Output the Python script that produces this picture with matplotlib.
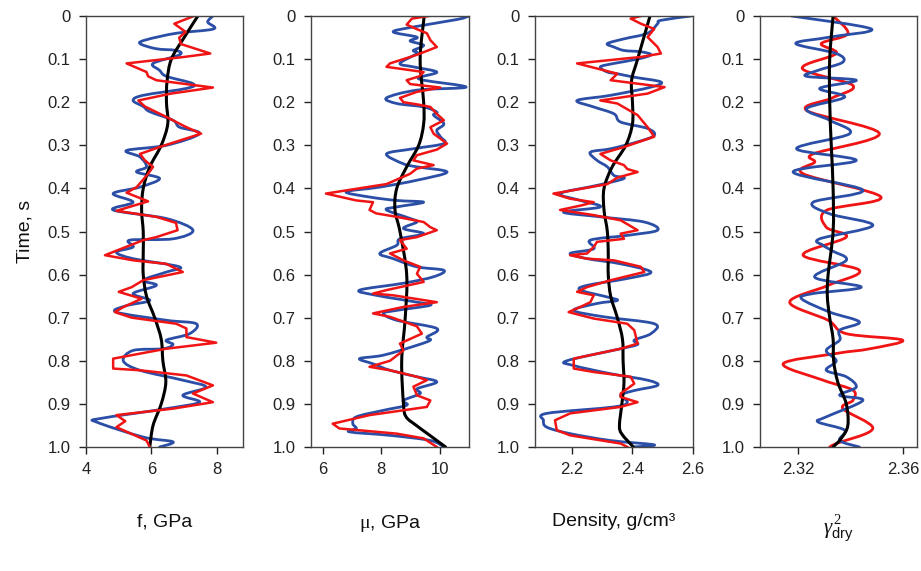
from __future__ import annotations

import numpy as np
import matplotlib
matplotlib.use("Agg")
import matplotlib.pyplot as plt
from matplotlib.path import Path
from matplotlib.patches import PathPatch

# ---- data (time in s, value in panel units) ----
# panel 1: f, GPa
f_red_t = [0.0, 0.018, 0.037, 0.05, 0.065, 0.087, 0.095, 0.11, 0.13, 0.14, 0.149, 0.166, 0.18, 0.196, 0.21,
           0.234, 0.258, 0.273, 0.304, 0.32, 0.335, 0.35, 0.366, 0.397, 0.41, 0.43, 0.452, 0.466, 0.48, 0.497,
           0.513, 0.52, 0.555, 0.567, 0.575, 0.594, 0.613, 0.629, 0.64, 0.656, 0.675, 0.687, 0.7, 0.714, 0.725,
           0.745, 0.758, 0.772, 0.795, 0.818, 0.822, 0.834, 0.857, 0.876, 0.896, 0.911, 0.926, 0.94, 0.954,
           0.985, 1.0]
f_red = [7.3, 6.7, 7.05, 6.85, 6.9, 7.8, 7.0, 5.24, 5.85, 5.9, 6.15, 7.88, 6.6, 5.6, 5.8,
         6.45, 7.07, 7.52, 6.25, 5.65, 5.8, 6.05, 5.9, 5.55, 5.24, 5.9, 4.93, 6.15, 6.75, 6.8,
         6.15, 5.75, 4.58, 5.45, 6.45, 6.96, 5.75, 5.4, 5.0, 5.7, 5.15, 4.88, 5.4, 6.76, 7.07,
         7.07, 7.98, 6.45, 4.83, 4.83, 5.65, 7.07, 7.88, 7.27, 7.88, 6.66, 4.93, 5.2, 4.93,
         5.85, 5.95]
f_blue_t = [0.0, 0.014, 0.03, 0.04, 0.055, 0.064, 0.076, 0.08, 0.09, 0.11, 0.126, 0.14, 0.157, 0.168, 0.184,
            0.196, 0.21, 0.222, 0.242, 0.258, 0.273, 0.3, 0.312, 0.327, 0.35, 0.362, 0.377, 0.397, 0.412,
            0.432, 0.45, 0.47, 0.497, 0.517, 0.52, 0.536, 0.548, 0.563, 0.582, 0.594, 0.613, 0.625, 0.644,
            0.66, 0.672, 0.687, 0.706, 0.714, 0.737, 0.752, 0.762, 0.772, 0.776, 0.8, 0.822, 0.845, 0.861,
            0.88, 0.896, 0.911, 0.934, 0.942, 0.977, 0.988, 1.0]
f_blue = [7.88, 7.72, 7.9, 6.76, 5.85, 5.65, 6.15, 6.76, 6.86, 6.05, 6.25, 6.46, 7.27, 7.07, 5.75,
          5.44, 5.75, 5.95, 6.66, 6.86, 7.47, 6.46, 5.24, 5.65, 5.85, 5.55, 6.25, 5.65, 4.83,
          5.44, 4.83, 6.46, 7.27, 6.66, 5.34, 5.44, 4.93, 5.44, 6.86, 6.46, 5.75, 6.15, 5.44,
          5.95, 5.24, 4.93, 6.46, 7.37, 7.17, 6.46, 6.66, 6.36, 5.44, 5.14, 5.65, 6.96, 7.67,
          6.96, 7.47, 6.46, 4.43, 4.32, 5.75, 6.66, 6.25]
f_black_t = [0.0, 0.05, 0.1, 0.15, 0.2, 0.25, 0.3, 0.35, 0.4, 0.45, 0.5, 0.55, 0.6, 0.65, 0.7, 0.75, 0.8,
             0.85, 0.9, 0.95, 1.0]
f_black = [7.42, 7.0, 6.61, 6.48, 6.46, 6.5, 6.3, 5.95, 5.75, 5.7, 5.75, 5.75, 5.75, 5.85, 6.1, 6.3, 6.35,
           6.44, 6.3, 6.05, 5.95]

# panel 2: mu, GPa
mu_red_t = [0.0, 0.006, 0.02, 0.03, 0.04, 0.056, 0.072, 0.09, 0.11, 0.118, 0.13, 0.14, 0.149, 0.158, 0.166,
            0.176, 0.19, 0.2, 0.205, 0.211, 0.227, 0.242, 0.258, 0.273, 0.296, 0.31, 0.323, 0.335, 0.346,
            0.354, 0.366, 0.39, 0.412, 0.428, 0.432, 0.45, 0.458, 0.466, 0.478, 0.49, 0.497, 0.513, 0.52,
            0.54, 0.551, 0.567, 0.582, 0.598, 0.617, 0.636, 0.644, 0.648, 0.664, 0.675, 0.69, 0.698, 0.72,
            0.737, 0.76, 0.776, 0.8, 0.814, 0.822, 0.837, 0.845, 0.86, 0.88, 0.892, 0.907, 0.926, 0.946,
            0.957, 0.969, 0.98, 1.0]
mu_red = [9.62, 9.05, 8.87, 9.2, 9.56, 9.68, 9.9, 9.22, 8.3, 8.18, 9.45, 9.3, 8.87, 8.99, 10.02,
          9.22, 8.64, 8.76, 9.22, 9.68, 9.9, 10.14, 9.68, 9.79, 10.25, 9.9, 9.22, 9.1, 9.79,
          9.22, 8.99, 8.18, 6.11, 7.15, 7.72, 7.6, 7.83, 8.53, 9.45, 9.68, 9.9, 9.22, 8.64,
          8.87, 8.3, 8.76, 9.33, 9.22, 9.45, 8.18, 7.72, 8.41, 9.9, 8.76, 7.72, 8.3, 9.22,
          9.39, 8.64, 8.76, 8.3, 7.6, 8.3, 9.22, 9.56, 9.1, 9.22, 9.68, 9.56, 7.6, 6.34,
          6.57, 8.53, 9.45, 9.9]
mu_blue_t = [0.0, 0.008, 0.026, 0.037, 0.049, 0.058, 0.068, 0.08, 0.087, 0.11, 0.118, 0.13, 0.142, 0.149,
             0.165, 0.172, 0.19, 0.203, 0.211, 0.223, 0.23, 0.25, 0.265, 0.28, 0.296, 0.308, 0.32, 0.343,
             0.35, 0.362, 0.381, 0.397, 0.408, 0.42, 0.428, 0.432, 0.443, 0.45, 0.47, 0.478, 0.493, 0.505,
             0.517, 0.532, 0.551, 0.563, 0.582, 0.59, 0.605, 0.62, 0.636, 0.648, 0.664, 0.671, 0.683, 0.69,
             0.706, 0.725, 0.745, 0.752, 0.764, 0.787, 0.795, 0.807, 0.822, 0.837, 0.849, 0.865, 0.876,
             0.892, 0.903, 0.915, 0.93, 0.946, 0.957, 0.965, 0.973, 0.985, 1.0]
mu_blue = [11.0, 10.6, 9.05, 8.41, 9.22, 8.99, 9.45, 9.1, 9.22, 8.64, 9.1, 9.9, 9.33, 9.45,
           10.9, 9.22, 8.18, 8.53, 9.45, 9.9, 9.79, 10.14, 9.9, 10.02, 10.14, 9.1, 8.18, 8.76,
           9.22, 10.25, 9.22, 7.95, 6.8, 7.6, 8.53, 9.45, 8.53, 8.18, 9.0, 9.22, 8.76, 9.45,
           8.64, 8.53, 7.95, 8.41, 9.22, 10.14, 9.79, 8.76, 7.26, 7.83, 9.22, 9.68, 8.53, 8.07,
           8.53, 9.9, 9.56, 9.68, 9.22, 8.07, 7.26, 7.72, 8.3, 9.22, 9.9, 9.22, 9.33,
           8.76, 8.87, 8.07, 7.15, 7.03, 7.15, 6.92, 8.3, 9.68, 10.14]
mu_black_t = [0.0, 0.1, 0.2, 0.25, 0.3, 0.35, 0.4, 0.45, 0.5, 0.6, 0.7, 0.8, 0.9, 0.93, 0.95, 0.97, 1.0]
mu_black = [9.47, 9.33, 9.45, 9.45, 9.28, 8.87, 8.53, 8.47, 8.64, 8.87, 8.82, 8.7, 8.76, 8.85, 9.2, 9.6, 10.2]

# panel 3: density, g/cm3
rho_red_t = [0.0, 0.006, 0.018, 0.03, 0.049, 0.072, 0.087, 0.095, 0.11, 0.126, 0.134, 0.149, 0.157, 0.165,
             0.18, 0.196, 0.203, 0.23, 0.258, 0.28, 0.304, 0.32, 0.335, 0.346, 0.355, 0.362, 0.375, 0.39,
             0.404, 0.412, 0.424, 0.432, 0.44, 0.45, 0.462, 0.474, 0.497, 0.505, 0.517, 0.524, 0.536, 0.551,
             0.555, 0.563, 0.567, 0.582, 0.594, 0.613, 0.629, 0.64, 0.648, 0.664, 0.675, 0.687, 0.702,
             0.714, 0.729, 0.76, 0.772, 0.795, 0.818, 0.826, 0.837, 0.853, 0.876, 0.884, 0.896, 0.907,
             0.922, 0.938, 0.961, 0.973, 0.992, 1.0]
rho_red = [2.428, 2.394, 2.428, 2.472, 2.45, 2.483, 2.494, 2.428, 2.217, 2.306, 2.35, 2.328, 2.417, 2.506,
           2.45, 2.294, 2.35, 2.417, 2.45, 2.472, 2.372, 2.294, 2.328, 2.372, 2.383, 2.417, 2.35, 2.317,
           2.206, 2.139, 2.194, 2.272, 2.228, 2.161, 2.272, 2.361, 2.417, 2.361, 2.372, 2.283, 2.272, 2.25,
           2.194, 2.25, 2.339, 2.428, 2.439, 2.328, 2.25, 2.217, 2.272, 2.261, 2.228, 2.189, 2.272,
           2.383, 2.406, 2.417, 2.361, 2.206, 2.206, 2.272, 2.394, 2.406, 2.361, 2.361, 2.417, 2.361,
           2.194, 2.144, 2.15, 2.194, 2.361, 2.383]
rho_blue_t = [0.0, 0.01, 0.018, 0.04, 0.053, 0.064, 0.072, 0.08, 0.083, 0.09, 0.1, 0.11, 0.118, 0.13, 0.134,
              0.142, 0.153, 0.165, 0.184, 0.196, 0.211, 0.227, 0.246, 0.261, 0.277, 0.292, 0.308, 0.316,
              0.335, 0.35, 0.37, 0.377, 0.393, 0.412, 0.428, 0.443, 0.455, 0.466, 0.478, 0.497, 0.509, 0.52,
              0.54, 0.551, 0.563, 0.575, 0.594, 0.609, 0.625, 0.636, 0.652, 0.66, 0.667, 0.683, 0.698,
              0.714, 0.737, 0.752, 0.762, 0.772, 0.8, 0.811, 0.83, 0.845, 0.857, 0.869, 0.88, 0.896, 0.907,
              0.922, 0.938, 0.954, 0.969, 0.985, 0.995, 1.0]
rho_blue = [2.594, 2.494, 2.483, 2.45, 2.372, 2.317, 2.339, 2.372, 2.428, 2.461, 2.417, 2.339, 2.294, 2.317,
            2.35, 2.406, 2.494, 2.461, 2.328, 2.217, 2.272, 2.339, 2.361, 2.45, 2.472, 2.417, 2.328, 2.261,
            2.283, 2.317, 2.339, 2.372, 2.283, 2.161, 2.228, 2.294, 2.172, 2.294, 2.439, 2.483, 2.383, 2.261,
            2.272, 2.194, 2.25, 2.361, 2.461, 2.383, 2.25, 2.228, 2.317, 2.35, 2.283, 2.206, 2.306,
            2.472, 2.461, 2.406, 2.417, 2.361, 2.183, 2.206, 2.328, 2.45, 2.483, 2.406, 2.361, 2.383, 2.339,
            2.117, 2.106, 2.117, 2.194, 2.328, 2.472, 2.4]
rho_black_t = [0.0, 0.1, 0.15, 0.2, 0.25, 0.3, 0.35, 0.4, 0.45, 0.5, 0.55, 0.6, 0.65, 0.7, 0.75, 0.8, 0.85,
               0.9, 0.95, 0.97, 1.0]
rho_black = [2.458, 2.417, 2.397, 2.4, 2.4, 2.378, 2.333, 2.306, 2.306, 2.317, 2.32, 2.32, 2.328, 2.35, 2.367,
             2.369, 2.372, 2.365, 2.357, 2.365, 2.403]

# panel 4: gamma^2 dry
g_red_t = [0.0, 0.041, 0.064, 0.087, 0.122, 0.161, 0.19, 0.219, 0.273, 0.32, 0.339, 0.366, 0.42, 0.451,
           0.49, 0.513, 0.555, 0.59, 0.625, 0.664, 0.706, 0.737, 0.752, 0.772, 0.783, 0.807, 0.845, 0.868,
           0.892, 0.911, 0.957, 0.992, 1.0]
g_red = [2.3333, 2.3389, 2.3288, 2.3345, 2.3216, 2.3408, 2.3330, 2.3232, 2.3509, 2.3257, 2.3263, 2.3219,
         2.3515, 2.3307, 2.3307, 2.3383, 2.3219, 2.3433, 2.3314, 2.3168, 2.3314, 2.3383, 2.3597, 2.3474,
         2.3345, 2.3143, 2.3295, 2.3408, 2.3408, 2.3370, 2.3484, 2.3345, 2.3320]
g_blue_t = [0.0, 0.03, 0.049, 0.064, 0.087, 0.107, 0.126, 0.14, 0.149, 0.168, 0.188, 0.215, 0.242, 0.273,
            0.308, 0.335, 0.362, 0.404, 0.432, 0.459, 0.486, 0.517, 0.532, 0.545, 0.567, 0.606, 0.629, 0.644,
            0.656, 0.687, 0.71, 0.729, 0.752, 0.776, 0.8, 0.822, 0.837, 0.861, 0.88, 0.892, 0.93, 0.942,
            0.961, 0.985, 1.0]
g_blue = [2.3175, 2.3478, 2.3320, 2.3191, 2.3345, 2.3370, 2.3276, 2.3232, 2.3421, 2.3282, 2.3377, 2.3232,
          2.3320, 2.3396, 2.3194, 2.3421, 2.3181, 2.3446, 2.3257, 2.3320, 2.3484, 2.3282, 2.3295, 2.3330,
          2.3383, 2.3263, 2.3440, 2.3257, 2.3213, 2.3320, 2.3433, 2.3358, 2.3358, 2.3307, 2.3345, 2.3307,
          2.3383, 2.3421, 2.3358, 2.3446, 2.3307, 2.3276, 2.3377, 2.3358, 2.3433]
g_black_t = [0.0, 0.1, 0.2, 0.3, 0.4, 0.5, 0.6, 0.65, 0.7, 0.75, 0.8, 0.85, 0.9, 0.95, 0.98, 1.0]
g_black = [2.3333, 2.3320, 2.3320, 2.3326, 2.3333, 2.3333, 2.3314, 2.3311, 2.3320, 2.3333, 2.3335, 2.3351,
           2.3383, 2.3389, 2.3364, 2.3333]

x_labels = ["f, GPa", r"$\mathrm{\mu}$, GPa", "Density, g/cm³", r"$\gamma^{\,2}_{\mathsf{dry}}$"]
x_limits = [(4.0, 8.8), (5.6, 11.0), (2.078, 2.594), (2.3055, 2.3652)]
x_ticks = [[4, 6, 8], [6, 8, 10], [2.2, 2.4, 2.6], [2.32, 2.36]]
x_ticklabels = [["4", "6", "8"], ["6", "8", "10"], ["2.2", "2.4", "2.6"], ["2.32", "2.36"]]
y_ticks = [0.0, 0.1, 0.2, 0.3, 0.4, 0.5, 0.6, 0.7, 0.8, 0.9, 1.0]
y_ticklabels = ["0", "0.1", "0.2", "0.3", "0.4", "0.5", "0.6", "0.7", "0.8", "0.9", "1.0"]

RED = "#f01414"
BLUE = "#2b4ea6"


def smooth_curve(ax, vals, times, color, lw):
    """Draw a curve through the read points as a smooth (Catmull-Rom style) bezier path."""
    p = np.column_stack([vals, times]).astype(float)
    n = len(p)
    verts = [p[0]]
    codes = [Path.MOVETO]
    for i in range(n - 1):
        p0 = p[i - 1] if i > 0 else p[i]
        p1, p2 = p[i], p[i + 1]
        p3 = p[i + 2] if i + 2 < n else p[i + 1]
        verts += [p1 + (p2 - p0) / 6.0, p2 - (p3 - p1) / 6.0, p2]
        codes += [Path.CURVE4] * 3
    ax.add_patch(PathPatch(Path(verts, codes), fill=False, edgecolor=color, lw=lw,
                           joinstyle="round", capstyle="round"))


def main() -> None:
    plt.rcParams["font.family"] = ["Liberation Sans", "DejaVu Sans"]
    plt.rcParams["mathtext.fontset"] = "custom"
    plt.rcParams["mathtext.rm"] = "Liberation Serif"
    plt.rcParams["mathtext.it"] = "Liberation Serif:italic"
    plt.rcParams["mathtext.sf"] = "Liberation Sans"

    W, H = 921, 571
    fig = plt.figure(figsize=(W / 100, H / 100), dpi=100)

    lefts = [86, 311, 535, 760]
    widths = [157, 158, 158, 157]
    top_px, bot_px = 16, 447

    panels = [
        (f_red_t, f_red, f_blue_t, f_blue, f_black_t, f_black),
        (mu_red_t, mu_red, mu_blue_t, mu_blue, mu_black_t, mu_black),
        (rho_red_t, rho_red, rho_blue_t, rho_blue, rho_black_t, rho_black),
        (g_red_t, g_red, g_blue_t, g_blue, g_black_t, g_black),
    ]

    for i, (rt, rv, bt, bv, kt, kv) in enumerate(panels):
        ax = fig.add_axes([lefts[i] / W, 1 - bot_px / H, widths[i] / W, (bot_px - top_px) / H])
        if i == 3:
            smooth_curve(ax, rv, rt, RED, 2.0)
        else:
            ax.plot(rv, rt, color=RED, lw=1.8, solid_joinstyle="round")
        smooth_curve(ax, bv, bt, BLUE, 2.0)
        smooth_curve(ax, kv, kt, "black", 2.2)

        ax.set_xlim(*x_limits[i])
        ax.set_ylim(1.0, 0.0)
        ax.set_xticks(x_ticks[i])
        ax.set_xticklabels(x_ticklabels[i])
        ax.set_yticks(y_ticks)
        ax.set_yticklabels(y_ticklabels)
        ax.tick_params(direction="out", length=5, width=1, labelsize=12, colors="#222222", pad=6)
        for s in ax.spines.values():
            s.set_color("#444444")
            s.set_linewidth(1.0)

        fs = 15 if i == 3 else 14
        ax.set_xlabel(x_labels[i], fontsize=fs, labelpad=26, color="#111111")

    fig.text(25 / W, 1 - 231 / H, "Time, s", rotation=90, ha="center", va="center",
             fontsize=14, color="#111111")

    fig.savefig("out.png", dpi=100)
    plt.close(fig)


if __name__ == "__main__":
    main()
